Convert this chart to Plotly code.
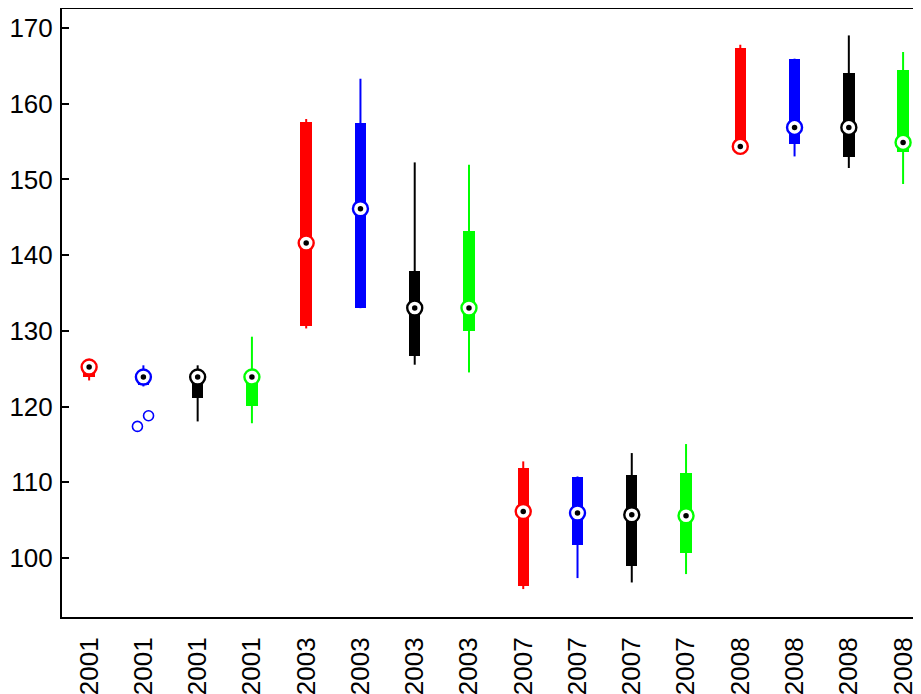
import plotly.graph_objects as go

# ---- data ----
years = ["2001", "2001", "2001", "2001",
         "2003", "2003", "2003", "2003",
         "2007", "2007", "2007", "2007",
         "2008", "2008", "2008", "2008"]
series_colors = ["#ff0000", "#0000ff", "#000000", "#00ff00"]

whisker_low = [123.45, 122.66, 118.04, 117.8,
               130.32, 133.0, 125.53, 124.51,
               95.9, 97.35, 96.77, 97.88,
               154.3, 153.04, 151.51, 149.4]
q1 = [123.85, 122.8, 121.2, 120.02,
      130.59, 133.02, 126.62, 129.93,
      96.24, 101.66, 98.98, 100.66,
      154.3, 154.72, 152.91, 153.62]
median = [125.22, 123.9, 123.9, 123.9,
          141.6, 146.13, 133.02, 133.02,
          106.15, 105.94, 105.72, 105.58,
          154.36, 156.87, 156.87, 154.89]
q3 = [125.5, 124.3, 124.3, 124.5,
      157.58, 157.45, 137.94, 143.13,
      111.88, 110.75, 110.91, 111.22,
      167.36, 165.9, 164.06, 164.4]
whisker_high = [125.6, 125.45, 125.45, 129.23,
                157.98, 163.3, 152.25, 151.94,
                112.76, 110.77, 113.86, 115.05,
                167.79, 165.95, 169.02, 166.83]

outlier_box = [2, 2]            # box index (1-based) the outliers belong to
outlier_values = [117.38, 118.79]
outlier_jitter = [-0.11, 0.095]

y_ticks = [100, 110, 120, 130, 140, 150, 160, 170]

# ---- figure ----
positions = list(range(1, len(years) + 1))
FONT = "Liberation Sans, Arial, Helvetica, sans-serif"

fig = go.Figure()

for ci, col in enumerate(series_colors):
    idx = [i for i in range(len(years)) if i % 4 == ci]
    xs, ys = [], []
    for i in idx:
        xs += [positions[i], positions[i], None]
        ys += [whisker_low[i], whisker_high[i], None]
    fig.add_trace(go.Scatter(x=xs, y=ys, mode="lines",
                             line=dict(color=col, width=2),
                             hoverinfo="skip", showlegend=False))
    fig.add_trace(go.Bar(x=[positions[i] for i in idx],
                         base=[q1[i] for i in idx],
                         y=[q3[i] - q1[i] for i in idx],
                         width=0.21,
                         marker=dict(color=col, line=dict(width=0)),
                         showlegend=False))

# outliers
fig.add_trace(go.Scatter(
    x=[positions[b - 1] + j for b, j in zip(outlier_box, outlier_jitter)],
    y=outlier_values, mode="markers",
    marker=dict(symbol="circle-open", size=10,
                color=[series_colors[(b - 1) % 4] for b in outlier_box],
                line=dict(width=1.6)),
    showlegend=False))

# median markers
fig.add_trace(go.Scatter(
    x=positions, y=median, mode="markers",
    marker=dict(symbol="circle", size=15, color="white",
                line=dict(color=[series_colors[i % 4] for i in range(len(years))],
                          width=2.4)),
    showlegend=False))
fig.add_trace(go.Scatter(
    x=positions, y=median, mode="markers",
    marker=dict(symbol="circle", size=5.5, color="black"),
    showlegend=False))

fig.update_layout(
    width=913, height=686,
    margin=dict(l=54, r=0, t=1, b=77, autoexpand=False),
    paper_bgcolor="white", plot_bgcolor="white",
    barmode="overlay", bargap=0,
    font=dict(family=FONT, size=26, color="black"),
    showlegend=False,
)
fig.update_xaxes(
    range=[0.5, 16.33],
    tickmode="array", tickvals=positions, ticktext=years,
    tickangle=-90, ticks="", ticklabelstandoff=8,
    showgrid=False, zeroline=False,
    showline=True, linecolor="black", linewidth=2, mirror=True,
    tickfont=dict(family=FONT, size=26, color="black"),
    automargin=False,
)
fig.update_yaxes(
    range=[92.21, 172.51],
    tickmode="array", tickvals=y_ticks,
    ticks="inside", ticklen=7, tickwidth=2, tickcolor="black",
    ticklabelstandoff=2,
    showgrid=False, zeroline=False,
    showline=True, linecolor="black", linewidth=2, mirror=False,
    tickfont=dict(family=FONT, size=26, color="black"),
    automargin=False,
)

fig.write_html("out.html")
